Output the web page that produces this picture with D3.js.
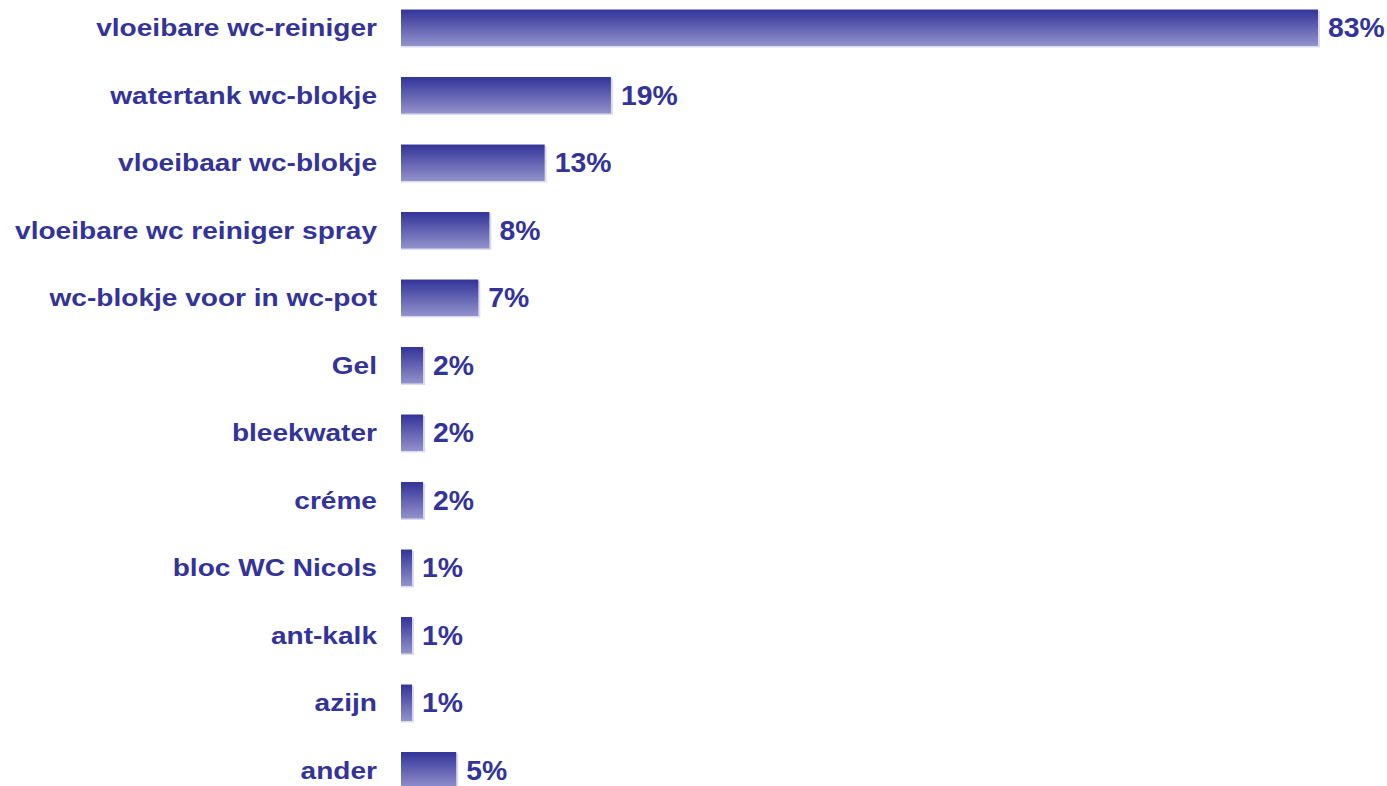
<!DOCTYPE html>
<html>
<head>
<meta charset="utf-8">
<script src="https://cdn.jsdelivr.net/npm/d3@7"></script>
<style>
  html, body { margin: 0; padding: 0; background: #ffffff; }
  svg { display: block; }
  text { font-family: "Liberation Sans", Arial, Helvetica, sans-serif; font-weight: bold; fill: #333399; }
</style>
</head>
<body>
<svg id="chart" width="1387" height="786"></svg>
<script>
// Categories and their shares (percent)
const categories = [
  "vloeibare wc-reiniger",
  "watertank wc-blokje",
  "vloeibaar wc-blokje",
  "vloeibare wc reiniger spray",
  "wc-blokje voor in wc-pot",
  "Gel",
  "bleekwater",
  "créme",
  "bloc WC Nicols",
  "ant-kalk",
  "azijn",
  "ander"
];
const values = [83, 19, 13, 8, 7, 2, 2, 2, 1, 1, 1, 5];

const data = categories.map((c, i) => ({ category: c, value: values[i] }));

const svg = d3.select("#chart");

const x = d3.scaleLinear()
  .domain([0, d3.max(values)])
  .range([401, 1318]);

const y = d3.scaleBand()
  .domain(categories)
  .range([-6, 804])
  .paddingInner(0.46)
  .paddingOuter(0.23);

// Vertical gradient used to fill each bar
const defs = svg.append("defs");
const grad = defs.append("linearGradient")
  .attr("id", "barFill")
  .attr("x1", 0).attr("y1", 0)
  .attr("x2", 0).attr("y2", 1);
grad.append("stop").attr("offset", "0%").attr("stop-color", "#333399");
grad.append("stop").attr("offset", "100%").attr("stop-color", "#9292cc");

const rows = svg.append("g").selectAll("g")
  .data(data)
  .join("g");

// Soft edge on the right and bottom of each bar
rows.append("rect")
  .attr("x", x(0))
  .attr("y", d => y(d.category) + 1.5)
  .attr("width", d => x(d.value) - x(0) + 2)
  .attr("height", y.bandwidth())
  .attr("fill", "#dcdcee");

rows.append("rect")
  .attr("x", x(0))
  .attr("y", d => y(d.category))
  .attr("width", d => x(d.value) - x(0))
  .attr("height", y.bandwidth())
  .attr("fill", "url(#barFill)");

// Category labels, right-aligned to the left of the bars
rows.append("g")
  .attr("transform", d => `translate(377, ${y(d.category) + y.bandwidth() / 2 + 8.5}) scale(1.17, 1)`)
  .append("text")
  .attr("text-anchor", "end")
  .style("font-size", "24px")
  .text(d => d.category);

// Value labels at the end of each bar
rows.append("g")
  .attr("transform", d => `translate(${x(d.value) + 10}, ${y(d.category) + y.bandwidth() / 2 + 9.5}) scale(1.05, 1)`)
  .append("text")
  .attr("text-anchor", "start")
  .style("font-size", "27px")
  .text(d => d.value + "%");
</script>
</body>
</html>
